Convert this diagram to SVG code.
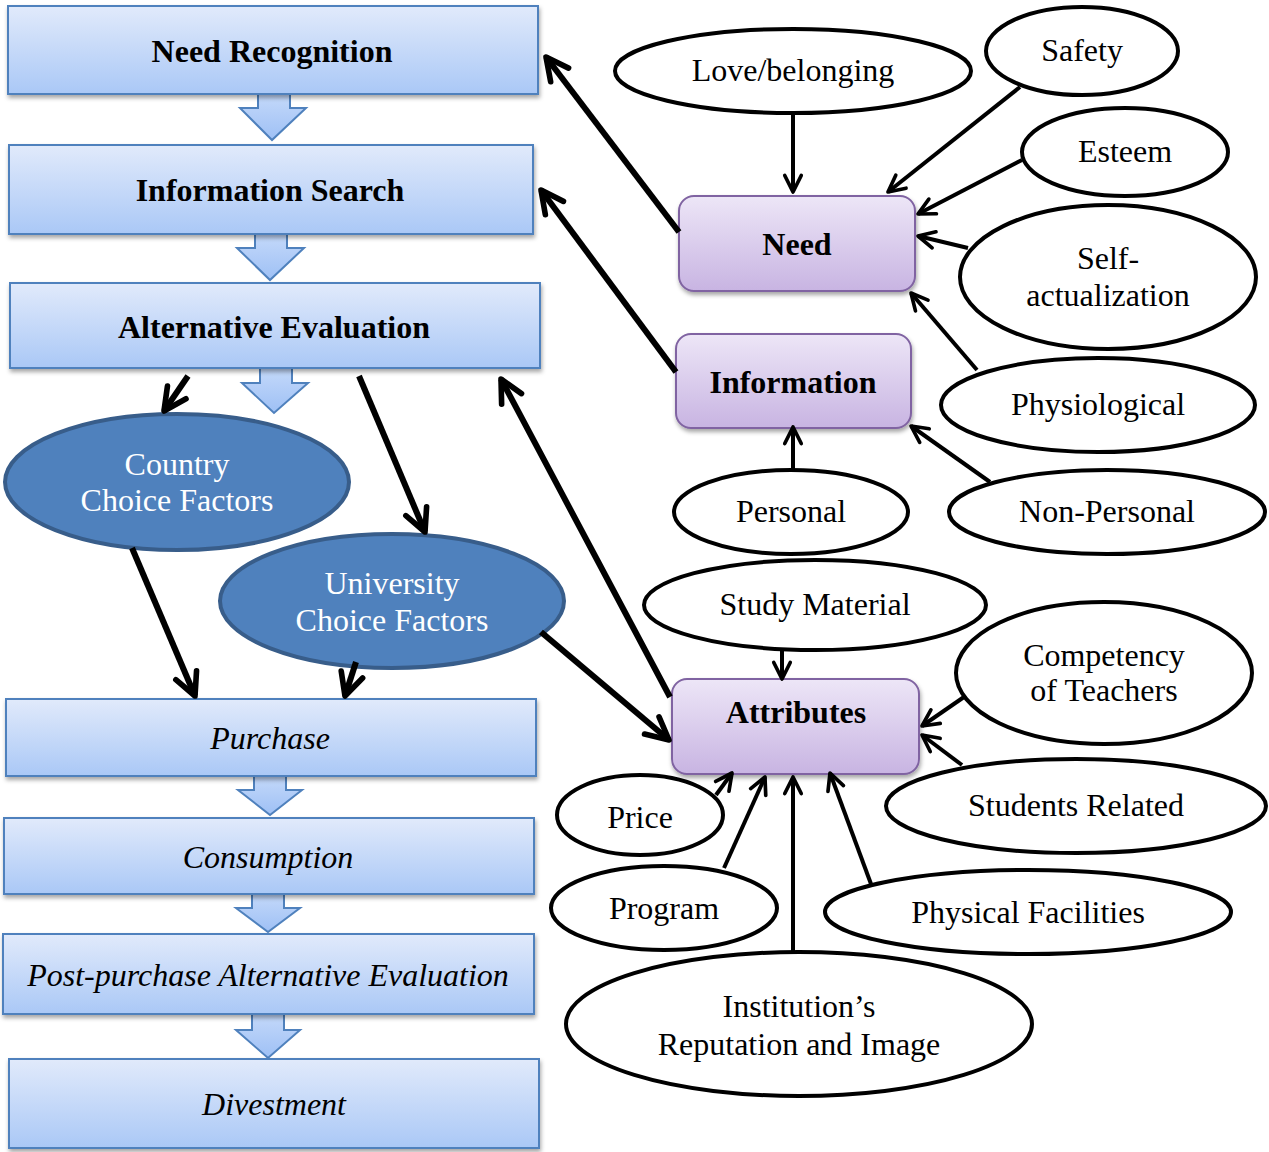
<svg xmlns="http://www.w3.org/2000/svg" width="1269" height="1152" viewBox="0 0 1269 1152">
<style>
.bx{fill:url(#gBlue);stroke:#4f81bd;stroke-width:2;filter:url(#sh)}
.ba{fill:url(#gArrow);stroke:#4f81bd;stroke-width:2}
.pb{fill:url(#gPurple);stroke:#8064a2;stroke-width:2;filter:url(#sh)}
.be{fill:#4f81bd;stroke:#385d8a;stroke-width:4}
.we{fill:#fff;stroke:#000;stroke-width:4}
.t{font-family:"Liberation Serif","Times New Roman",serif;font-size:32px;text-anchor:middle;fill:#000}
.b{font-weight:bold}
.i{font-style:italic}
.w{fill:#fff}
.thick{stroke:#000;stroke-width:6;fill:none;marker-end:url(#mk)}
.thin{stroke:#000;stroke-width:4;fill:none;marker-end:url(#ms)}
</style>
<defs>
<linearGradient id="gBlue" x1="0" y1="0" x2="0" y2="1"><stop offset="0" stop-color="#e1eafb"/><stop offset="1" stop-color="#aac8f6"/></linearGradient>
<linearGradient id="gArrow" x1="0" y1="0" x2="0" y2="1"><stop offset="0" stop-color="#c6dafa"/><stop offset="1" stop-color="#9ec0f5"/></linearGradient>
<linearGradient id="gPurple" x1="0" y1="0" x2="0" y2="1"><stop offset="0" stop-color="#ede6f7"/><stop offset="1" stop-color="#c8b4e2"/></linearGradient>
<filter id="sh" x="-5%" y="-10%" width="110%" height="125%"><feDropShadow dx="1" dy="3" stdDeviation="2" flood-color="#000" flood-opacity="0.35"/></filter>
<marker id="mk" viewBox="0 0 24 24" refX="21" refY="12" markerWidth="30" markerHeight="30" markerUnits="userSpaceOnUse" orient="auto"><path d="M3,3 L21,12 L3,21" fill="none" stroke="#000" stroke-width="4.5" stroke-linecap="round" stroke-linejoin="round"/></marker>
<marker id="ms" viewBox="0 0 24 24" refX="21" refY="12" markerWidth="22" markerHeight="22" markerUnits="userSpaceOnUse" orient="auto"><path d="M3,3 L21,12 L3,21" fill="none" stroke="#000" stroke-width="4" stroke-linecap="round" stroke-linejoin="round"/></marker>
</defs>

<g id="flow-arrows">
<path class="ba" d="M258,92 H290 V108 H306 L272,140 L240,108 H258 Z"/>
<path class="ba" d="M255,232 H287 V248 H304 L270,280 L237,248 H255 Z"/>
<path class="ba" d="M260,366 H292 V383 H308 L274,413 L242,383 H260 Z"/>
<path class="ba" d="M254,774 H286 V790 H302 L270,815 L238,790 H254 Z"/>
<path class="ba" d="M252,892 H284 V908 H300 L268,932 L236,908 H252 Z"/>
<path class="ba" d="M252,1012 H284 V1030 H300 L268,1058 L236,1030 H252 Z"/>
</g>

<g id="n-need-recognition"><rect class="bx" x="8" y="6" width="530" height="88"/><text class="t b" x="272" y="62">Need Recognition</text></g>
<g id="n-information-search"><rect class="bx" x="9" y="145" width="524" height="89"/><text class="t b" x="270" y="201">Information Search</text></g>
<g id="n-alternative-evaluation"><rect class="bx" x="10" y="283" width="530" height="85"/><text class="t b" x="274" y="338">Alternative Evaluation</text></g>
<g id="n-purchase"><rect class="bx" x="6" y="699" width="530" height="77"/><text class="t i" x="270" y="749">Purchase</text></g>
<g id="n-consumption"><rect class="bx" x="4" y="818" width="530" height="76"/><text class="t i" x="268" y="868">Consumption</text></g>
<g id="n-post-purchase"><rect class="bx" x="3" y="934" width="531" height="80"/><text class="t i" x="268" y="986">Post-purchase Alternative Evaluation</text></g>
<g id="n-divestment"><rect class="bx" x="9" y="1059" width="530" height="89"/><text class="t i" x="274" y="1115">Divestment</text></g>

<g id="n-country"><ellipse class="be" cx="177" cy="482" rx="172" ry="68"/><text class="t w" x="177" y="475">Country</text><text class="t w" x="177" y="511">Choice Factors</text></g>
<g id="n-university"><ellipse class="be" cx="392" cy="601" rx="172" ry="67"/><text class="t w" x="392" y="594">University</text><text class="t w" x="392" y="631">Choice Factors</text></g>

<g id="n-need"><rect class="pb" x="679" y="196" width="236" height="95" rx="15"/><text class="t b" x="797" y="255">Need</text></g>
<g id="n-information"><rect class="pb" x="676" y="334" width="235" height="94" rx="15"/><text class="t b" x="793" y="393">Information</text></g>
<g id="n-attributes"><rect class="pb" x="672" y="679" width="247" height="95" rx="15"/><text class="t b" x="796" y="723">Attributes</text></g>

<g id="n-love"><ellipse class="we" cx="793" cy="71" rx="178" ry="42"/><text class="t" x="793" y="81">Love/belonging</text></g>
<g id="n-safety"><ellipse class="we" cx="1082" cy="51" rx="96" ry="44"/><text class="t" x="1082" y="61">Safety</text></g>
<g id="n-esteem"><ellipse class="we" cx="1125" cy="152" rx="103" ry="44"/><text class="t" x="1125" y="162">Esteem</text></g>
<g id="n-self"><ellipse class="we" cx="1108" cy="277" rx="148" ry="72"/><text class="t" x="1108" y="269">Self-</text><text class="t" x="1108" y="306">actualization</text></g>
<g id="n-physiological"><ellipse class="we" cx="1098" cy="405" rx="157" ry="47"/><text class="t" x="1098" y="415">Physiological</text></g>
<g id="n-personal"><ellipse class="we" cx="791" cy="512" rx="117" ry="42"/><text class="t" x="791" y="522">Personal</text></g>
<g id="n-nonpersonal"><ellipse class="we" cx="1107" cy="512" rx="158" ry="42"/><text class="t" x="1107" y="522">Non-Personal</text></g>
<g id="n-study"><ellipse class="we" cx="815" cy="605" rx="171" ry="45"/><text class="t" x="815" y="615">Study Material</text></g>
<g id="n-competency"><ellipse class="we" cx="1104" cy="673" rx="148" ry="71"/><text class="t" x="1104" y="666">Competency</text><text class="t" x="1104" y="701">of Teachers</text></g>
<g id="n-students"><ellipse class="we" cx="1076" cy="806" rx="190" ry="47"/><text class="t" x="1076" y="816">Students Related</text></g>
<g id="n-price"><ellipse class="we" cx="640" cy="815" rx="83" ry="40"/><text class="t" x="640" y="828">Price</text></g>
<g id="n-program"><ellipse class="we" cx="664" cy="908" rx="113" ry="42"/><text class="t" x="664" y="919">Program</text></g>
<g id="n-physical"><ellipse class="we" cx="1028" cy="912" rx="203" ry="42"/><text class="t" x="1028" y="923">Physical Facilities</text></g>
<g id="n-institution"><ellipse class="we" cx="799" cy="1024" rx="233" ry="72"/><text class="t" x="799" y="1017">Institution’s</text><text class="t" x="799" y="1055">Reputation and Image</text></g>

<g id="connectors">
<path class="thick" d="M679,232 L546,57"/>
<path class="thick" d="M676,372 L541,190"/>
<path class="thick" d="M670,697 L501,379"/>
<path class="thick" d="M188,376 L164,411"/>
<path class="thick" d="M359,376 L425,532"/>
<path class="thick" d="M132,548 L195,696"/>
<path class="thick" d="M356,662 L345,696"/>
<path class="thick" d="M541,632 L669,740"/>
<path class="thin" d="M793,114 L793,192"/>
<path class="thin" d="M1020,87 L888,192"/>
<path class="thin" d="M1022,160 L918,214"/>
<path class="thin" d="M968,248 L918,236"/>
<path class="thin" d="M977,370 L911,293"/>
<path class="thin" d="M793,470 L793,427"/>
<path class="thin" d="M990,482 L911,426"/>
<path class="thin" d="M782,650 L782,679"/>
<path class="thin" d="M964,697 L922,726"/>
<path class="thin" d="M962,765 L922,735"/>
<path class="thin" d="M716,795 L732,773"/>
<path class="thin" d="M724,868 L765,777"/>
<path class="thin" d="M793,952 L793,777"/>
<path class="thin" d="M871,884 L830,773"/>
</g>
</svg>
